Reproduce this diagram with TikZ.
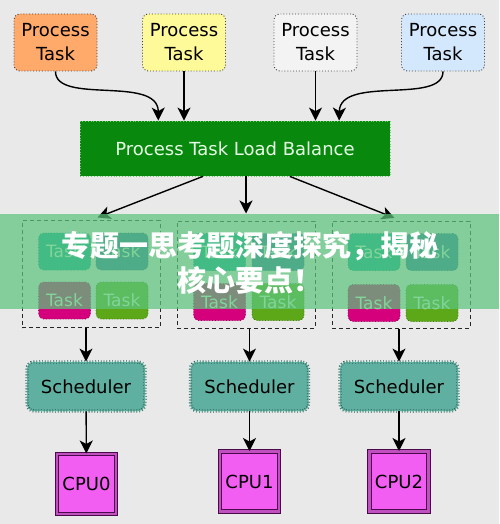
\documentclass[tikz,border=0pt]{standalone}
\usepackage{fontspec}
\setmainfont{DejaVu Sans}
\newfontfamily\cjk{Noto Sans CJK SC}
\usetikzlibrary{arrows.meta}

\definecolor{bg}{HTML}{E9E9E9}
\definecolor{taskA}{HTML}{FFA96A}
\definecolor{taskB}{HTML}{FFFA99}
\definecolor{taskC}{HTML}{F3F3F3}
\definecolor{taskD}{HTML}{D3E8FC}
\definecolor{lbfill}{HTML}{08880C}
\definecolor{lbline}{HTML}{6FCF6F}
\definecolor{lbtext}{HTML}{E8FFE8}
\definecolor{tA}{HTML}{00A89A}
\definecolor{tB}{HTML}{2A6FA8}
\definecolor{tC}{HTML}{D4007C}
\definecolor{tD}{HTML}{5CA818}
\definecolor{schedfill}{HTML}{5FB0A0}
\definecolor{schedline}{HTML}{24584E}
\definecolor{cpufill}{HTML}{F25EF2}
\definecolor{cpumid}{HTML}{C050C0}
\definecolor{cpuline}{HTML}{4A0A4A}
\definecolor{band}{HTML}{5CC47C}

\begin{document}
\begin{tikzpicture}[x=1pt,y=-1pt,
  task/.style={draw=black!75,dotted,line width=0.9pt,rounded corners=6pt,
    minimum width=83pt,minimum height=57pt,align=center,
    font=\fontsize{18}{24}\selectfont},
  lbal/.style={draw=lbline,dotted,line width=0.8pt,fill=lbfill,text=lbtext,
    minimum width=310pt,minimum height=55pt,font=\fontsize{18}{22}\selectfont},
  grp/.style={draw=black!85,dash pattern=on 4pt off 3pt,line width=1pt,
    minimum width=138pt,minimum height=107pt},
  small/.style={draw=#1!70!black,dotted,line width=0.8pt,fill=#1,rounded corners=5pt,
    minimum width=52pt,minimum height=37pt,text=white!90!green,
    font=\fontsize{17}{20}\selectfont},
  sched/.style={draw=schedline,dotted,line width=0.8pt,double=schedfill,
    double distance=1.6pt,fill=schedfill,rounded corners=7pt,
    minimum width=118pt,minimum height=49pt,font=\fontsize{18}{22}\selectfont},
  cpu/.style={draw=cpuline,line width=1pt,double=cpumid,double distance=2.5pt,
    fill=cpufill,minimum width=59pt,minimum height=60pt,inner sep=0pt,
    font=\fontsize{18}{22}\selectfont},
  arr/.style={-{Stealth[length=13pt,width=13pt,inset=3.5pt]},line width=1.4pt}]
\fill[bg] (0,0) rectangle (499,524);

% incoming tasks
\node[task,fill=taskA] (t1) at (55.5,42.5) {Process\\Task};
\node[task,fill=taskB] (t2) at (184,42.5) {Process\\Task};
\node[task,fill=taskC] (t3) at (315.5,42.5) {Process\\Task};
\node[task,fill=taskD] (t4) at (443,42.5) {Process\\Task};
\node[lbal] (lb) at (235,148.5) {Process Task Load Balance};

\draw[arr] (t1.south) .. controls (55.5,105) and (158,75) .. (lb.160);
\draw[arr] (t2) -- (t2 |- lb.north);
\draw[arr] (t3) -- (t3 |- lb.north);
\draw[arr] (t4.south) .. controls (443,105) and (340,75) .. (lb.15);

% queues
\node[grp] (g0) at (91,274) {};
\node[grp] (g1) at (246,274.5) {};
\node[grp] (g2) at (401,274.5) {};

\node[small=tA] (g0a) at (64.5,251.5) {Task};
\node[small=tB] (g0b) at (122,251.5) {Task};
\node[small=tC] (g0c) at (64.5,300.5) {Task};
\node[small=tD] (g0d) at (122,300.5) {Task};

\node[small=tA] (g1a) at (219.5,252) {Task};
\node[small=tB] (g1b) at (278,252) {Task};
\node[small=tC] (g1c) at (219.5,302) {Task};
\node[small=tD] (g1d) at (278,302) {Task};

\node[small=tA] (g2a) at (374,252) {Task};
\node[small=tB] (g2b) at (432,252) {Task};
\node[small=tC] (g2c) at (374,303) {Task};
\node[small=tD] (g2d) at (432,303) {Task};

\draw[arr,shorten >=7pt] (lb.221) -- (g0.north);
\draw[arr,shorten >=7pt] (lb.south -| g1) -- (g1.north);
\draw[arr,shorten >=7pt] (lb.-27) -- (g2.north);

% schedulers and cpus
\node[sched] (s0) at (86,386.5) {Scheduler};
\node[sched] (s1) at (249.5,386.5) {Scheduler};
\node[sched] (s2) at (399,386.5) {Scheduler};

\node[cpu] (c0) at (86.5,484) {CPU0};
\node[cpu] (c1) at (249.5,481.5) {CPU1};
\node[cpu] (c2) at (399,481.5) {CPU2};

\draw[arr] (s0 |- g0.south) -- (s0);
\draw[arr] (s1 |- g1.south) -- (s1);
\draw[arr] (s2 |- g2.south) -- (s2);
\draw[arr] (s0) -- (c0);
\draw[arr] (s1) -- (c1);
\draw[arr] (s2) -- (c2);

% banner
\fill[band,fill opacity=0.72] (0,214) rectangle (499,309);
\node[font=\cjk\bfseries\fontsize{29}{35}\selectfont,text=white] (ban1) at (249.5,246) {专题一思考题深度探究，揭秘};
\node[font=\cjk\bfseries\fontsize{29}{35}\selectfont,text=white] (ban2) at (250,280) {核心要点！};
\end{tikzpicture}
\end{document}
